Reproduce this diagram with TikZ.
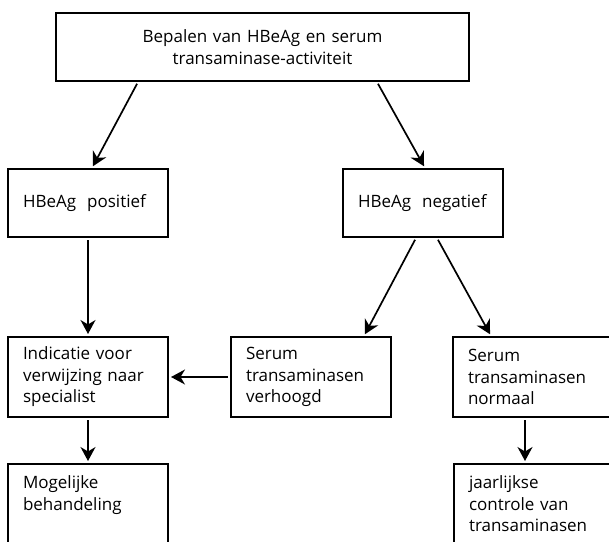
\documentclass[tikz,border=0pt]{standalone}
\usepackage{fontspec}
\setmainfont{Open Sans}
\usetikzlibrary{arrows.meta}

\begin{document}
\begin{tikzpicture}[x=1pt,y=-1pt]
                    \tikzstyle{every node}+=[font=\fontsize{17}{21.5}\selectfont]
                    \tikzstyle{blok}=[draw, line width=2pt, rectangle, minimum width=160pt, minimum height=80pt, text width=130pt, inner xsep=15pt, align=left]
                    \tikzstyle{pijl}=[line width=1.7pt, -{Stealth[length=14pt,width=15pt,inset=4.5pt]}, shorten <=2pt, shorten >=2pt]
                    \useasboundingbox (0,0) rectangle (609,541);
                    \clip (0,0) rectangle (609,541);
                    \node [blok, minimum width=413pt, minimum height=68pt, text width=383pt, align=center] (start) at (262.5,47) {Bepalen van HBeAg en serum\\transaminase-activiteit};
                    \node [blok, minimum height=68pt] (pos) at (88,203) {HBeAg\hspace{11pt}positief};
                    \node [blok, minimum height=68pt] (neg) at (423,203) {HBeAg\hspace{11pt}negatief};
                    \node [blok] (ind) at (88,377) {Indicatie voor\\verwijzing naar\\specialist};
                    \node [blok] (verh) at (311,377) {Serum\\transaminasen\\verhoogd};
                    \node [blok] (norm) at (533,377) {Serum\\transaminasen\\normaal};
                    \node [blok] (mog) at (88,504) {Mogelijke\\behandeling\\\mbox{}};
                    \node [blok] (jaar) at (534,504) {jaarlijkse\\controle van\\transaminasen};
                    \draw [pijl] ([xshift=83pt]start.south west) -- ([xshift=4pt]pos.north);
                    \draw [pijl] ([xshift=322pt]start.south west) -- ([xshift=2pt]neg.north);
                    \draw [pijl] (pos.south) -- (ind.north);
                    \draw [pijl] ([xshift=-7pt]neg.south) -- ([xshift=-28pt]verh.north east);
                    \draw [pijl] ([xshift=14pt]neg.south) -- ([xshift=39pt]norm.north west);
                    \draw [pijl] (verh.west) -- (ind.east);
                    \draw [pijl] (ind.south) -- (mog.north);
                    \draw [pijl] ([xshift=73pt]norm.south west) -- ([xshift=72pt]jaar.north west);
                \end{tikzpicture}
\end{document}
